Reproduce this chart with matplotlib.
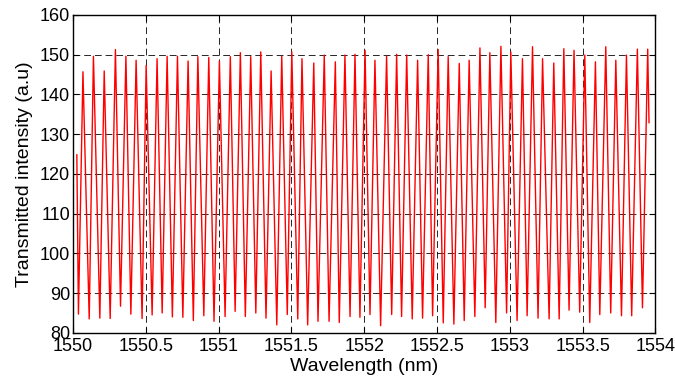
import numpy as np
import matplotlib
matplotlib.use('Agg')
import matplotlib.pyplot as plt
from matplotlib.ticker import FormatStrFormatter, MultipleLocator

wavelength = [1550.027, 1550.038, 1550.069, 1550.112, 1550.141, 1550.185, 1550.215, 1550.256,
              1550.292, 1550.327, 1550.364, 1550.398, 1550.434, 1550.475, 1550.503, 1550.544,
              1550.578, 1550.613, 1550.647, 1550.683, 1550.718, 1550.755, 1550.791, 1550.827,
              1550.858, 1550.899, 1550.933, 1550.969, 1551.006, 1551.045, 1551.081, 1551.114,
              1551.150, 1551.184, 1551.221, 1551.256, 1551.290, 1551.326, 1551.361, 1551.400,
              1551.434, 1551.472, 1551.503, 1551.544, 1551.573, 1551.612, 1551.654, 1551.683,
              1551.726, 1551.759, 1551.802, 1551.829, 1551.868, 1551.903, 1551.937, 1551.971,
              1552.006, 1552.040, 1552.074, 1552.113, 1552.154, 1552.189, 1552.223, 1552.257,
              1552.292, 1552.330, 1552.367, 1552.401, 1552.440, 1552.470, 1552.508, 1552.543,
              1552.577, 1552.616, 1552.653, 1552.687, 1552.721, 1552.760, 1552.795, 1552.831,
              1552.863, 1552.904, 1552.939, 1552.978, 1553.007, 1553.050, 1553.087, 1553.119,
              1553.156, 1553.194, 1553.225, 1553.270, 1553.302, 1553.339, 1553.371, 1553.407,
              1553.441, 1553.480, 1553.515, 1553.549, 1553.588, 1553.618, 1553.659, 1553.693,
              1553.728, 1553.767, 1553.801, 1553.837, 1553.876, 1553.911, 1553.947, 1553.956]

intensity = [124.8, 84.7, 145.7, 83.5, 149.6, 83.7, 145.9, 83.6,
             151.3, 86.7, 149.6, 84.7, 148.6, 83.6, 147.3, 84.5,
             149.0, 85.0, 149.6, 84.0, 149.6, 83.9, 148.4, 83.1,
             149.5, 84.3, 149.3, 82.9, 148.4, 84.1, 149.5, 85.4,
             150.5, 84.1, 149.5, 85.0, 150.7, 83.7, 145.9, 82.0,
             149.6, 84.6, 150.7, 83.5, 149.0, 82.0, 147.9, 82.9,
             149.9, 82.9, 148.2, 82.6, 149.9, 84.1, 150.1, 83.9,
             151.1, 84.6, 148.6, 81.8, 149.6, 84.6, 150.1, 84.1,
             149.9, 83.5, 148.6, 83.7, 150.0, 84.3, 151.3, 82.5,
             149.5, 82.2, 147.8, 83.1, 148.6, 84.1, 151.7, 86.3,
             150.5, 82.6, 152.1, 85.0, 150.7, 83.1, 149.0, 84.3,
             152.0, 83.7, 149.0, 83.5, 147.9, 83.5, 151.5, 85.7,
             151.1, 85.2, 149.9, 82.6, 148.2, 84.6, 152.0, 85.0,
             148.6, 84.3, 149.9, 84.3, 151.4, 86.3, 151.4, 132.9]

plt.rcParams['font.family'] = ['Liberation Sans', 'DejaVu Sans']

fig = plt.figure(figsize=(6.75, 3.83), dpi=100)
ax = fig.add_axes([0.108, 0.131, 0.863, 0.830])

ax.plot(wavelength, intensity, color='red', lw=1.0)

ax.set_xlim(1550, 1554)
ax.set_ylim(80, 160)
ax.xaxis.set_major_locator(MultipleLocator(0.5))
ax.yaxis.set_major_locator(MultipleLocator(10))
ax.xaxis.set_major_formatter(FormatStrFormatter('%g'))

ax.grid(True, color='black', linestyle=(0, (7, 4)), lw=0.7, alpha=0.85)
ax.set_axisbelow(True)
ax.tick_params(direction='in', top=True, right=True, length=4, labelsize=13)
ax.tick_params(axis='x', pad=4)
ax.tick_params(axis='y', pad=2)
for s in ax.spines.values():
    s.set_linewidth(1.0)

ax.set_xlabel('Wavelength (nm)', fontsize=14, labelpad=2)
ax.set_ylabel('Transmitted intensity (a.u)', fontsize=14, labelpad=5)

fig.savefig('out.png', dpi=100)
